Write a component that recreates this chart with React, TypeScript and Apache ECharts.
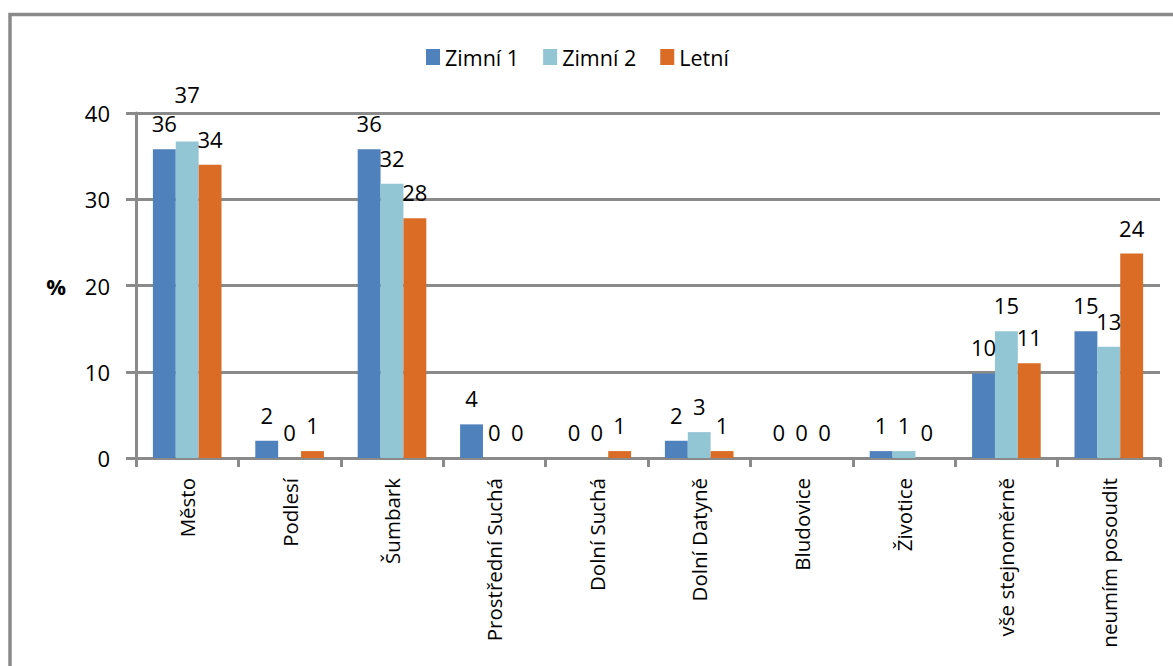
import React, { useEffect, useRef } from "react";
import * as echarts from "echarts";

const categories = [
  "Město",
  "Podlesí",
  "Šumbark",
  "Prostřední Suchá",
  "Dolní Suchá",
  "Dolní Datyně",
  "Bludovice",
  "Životice",
  "vše stejnoměrně",
  "neumím posoudit",
];
const seriesNames = ["Zimní 1", "Zimní 2", "Letní"];
const zimni1 = [35.8, 2.0, 35.8, 3.9, 0, 2.0, 0, 0.8, 9.8, 14.7];
const zimni2 = [36.7, 0, 31.8, 0, 0, 3.0, 0, 0.8, 14.7, 12.9];
const letni = [34.0, 0.8, 27.8, 0, 0.8, 0.8, 0, 0, 11.0, 23.7];
const yTicks = { min: 0, max: 40, interval: 10 };
const colors = ["#4F81BD", "#93C6D4", "#DA6C26"];

const FONT = "Open Sans";
const GRAY = "#8a8a8a";

export default function App() {
  const ref = useRef<HTMLDivElement>(null);
  useEffect(() => {
    if (!ref.current) return;
    const chart = echarts.init(ref.current, null, { renderer: "svg" });
    const data = [zimni1, zimni2, letni];
    chart.setOption({
      animation: false,
      backgroundColor: "#ffffff",
      textStyle: { fontFamily: FONT, color: "#000" },
      graphic: [
        {
          type: "rect",
          z: -10,
          shape: { x: 10, y: 14.5, width: 1300, height: 800 },
          style: { fill: "none", stroke: GRAY, lineWidth: 3.5 },
          silent: true,
        },
      ],
      legend: {
        data: seriesNames,
        top: 41,
        left: 421,
        itemWidth: 14,
        itemHeight: 16,
        itemGap: 24,
        icon: "rect",
        textStyle: { fontFamily: FONT, fontSize: 21.5, color: "#000" },
      },
      grid: { left: 136, right: 13, top: 113, bottom: 208, containLabel: false },
      xAxis: {
        type: "category",
        data: categories,
        axisLine: { show: true, lineStyle: { color: GRAY, width: 3 } },
        axisTick: { show: true, alignWithLabel: false, length: 9, lineStyle: { color: GRAY, width: 3 } },
        axisLabel: {
          rotate: 90,
          margin: 20,
          fontFamily: FONT,
          fontSize: 20.5,
          color: "#000",
          interval: 0,
        },
      },
      yAxis: {
        type: "value",
        min: yTicks.min,
        max: yTicks.max,
        interval: yTicks.interval,
        name: "%",
        nameLocation: "middle",
        nameRotate: 0,
        nameGap: 70,
        nameTextStyle: { fontFamily: FONT, fontSize: 22, fontWeight: "bold", color: "#000" },
        axisLine: { show: true, lineStyle: { color: GRAY, width: 3 } },
        axisTick: { show: true, inside: false, length: 10, lineStyle: { color: GRAY, width: 3 } },
        splitLine: { show: true, lineStyle: { color: GRAY, width: 3 } },
        axisLabel: { margin: 26, fontFamily: FONT, fontSize: 22, color: "#000" },
      },
      series: seriesNames.map((name, i) => ({
        name,
        type: "bar",
        data: data[i].map((v, j) =>
          i === 1 && j === 0 ? { value: v, label: { distance: 36 } } : v
        ),
        barGap: "0%",
        barCategoryGap: "33%",
        itemStyle: { color: colors[i] },
        label: {
          show: true,
          position: "top",
          distance: 15,
          fontFamily: FONT,
          fontSize: 22,
          color: "#000",
          formatter: (p: any) => String(Math.round(p.value)),
        },
      })),
    });
    return () => chart.dispose();
  }, []);
  return (
    <div
      ref={ref}
      style={{ position: "fixed", left: 0, top: 0, width: 1173, height: 666, background: "#fff" }}
    />
  );
}
